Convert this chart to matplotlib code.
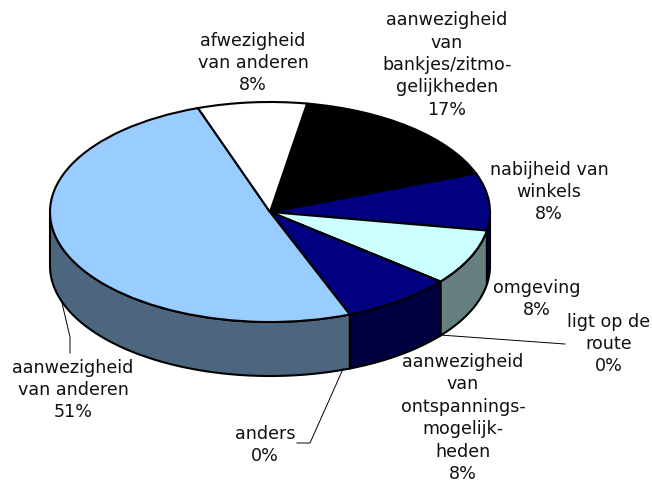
# -*- encoding: utf-8 -*-
import numpy as np
import matplotlib
matplotlib.use('Agg')
import matplotlib.pyplot as plt
from matplotlib.lines import Line2D
from matplotlib.patches import Polygon

W, H = 652, 482

names = ['aanwezigheid\nvan\nbankjes/zitmo-\ngelijkheden',
         'nabijheid van\nwinkels',
         'omgeving',
         'ligt op de\nroute',
         'aanwezigheid\nvan\nontspannings-\nmogelijk-\nheden',
         'anders',
         'aanwezigheid\nvan anderen',
         'afwezigheid\nvan anderen']
values = [16.6, 8.4, 8.2, 0, 8.2, 0, 50.6, 8.0]
top_colors = ['#000000', '#000080', '#CCFFFF', '#FFFFFF',
              '#000080', '#FFFFFF', '#99CCFF', '#FFFFFF']
side_colors = ['#000000', '#000040', '#668080', '#808080',
               '#000040', '#808080', '#4D6680', '#808080']
label_pos = [(447, 65), (549, 192), (537, 299), (609, 344),
             (463, 418), (265, 445), (73, 390), (253, 63)]
leaders = [[(440, 335), (565, 344)],
           [(343, 369), (310, 443), (297, 443)],
           [(62, 303), (70, 337), (70, 353)]]

start = 9.7
cx, cy = 270, 212
rx, ry = 220, 110
depth = 54


def px(x, y):
    return x / W, 1 - y / H


def main():
    fig = plt.figure(figsize=(W / 100, H / 100), dpi=100)
    ax = fig.add_axes([0, 0, 1, 1])

    # front wall first, then the flat pie on top of it
    edges = start + np.cumsum([0] + values) * 3.6
    dz = depth / ry
    for a0, a1, col in zip(edges[:-1], edges[1:], side_colors):
        lo, hi = max(a0, 90), min(a1, 270)
        if hi <= lo:
            continue
        t = np.radians(np.linspace(lo, hi, 60))
        xs, ys = np.sin(t), np.cos(t)
        pts = np.r_[np.c_[xs, ys], np.c_[xs, ys - dz][::-1]]
        ax.add_patch(Polygon(pts, closed=True, facecolor=col,
                             edgecolor='black', linewidth=1.5))

    ax.pie(values, colors=top_colors, startangle=90 - start, counterclock=False,
           wedgeprops={'edgecolor': 'black', 'linewidth': 1.5})

    # squash the circle into the tilted ellipse
    ax.set_aspect('auto')
    ax.set_xlim(-cx / rx, (W - cx) / rx)
    ax.set_ylim(-(H - cy) / ry, cy / ry)

    for name, v, (x, y) in zip(names, values, label_pos):
        fx, fy = px(x, y)
        fig.text(fx, fy, f'{name}\n{v:.0f}%', ha='center', va='center',
                 fontsize=12.6, color='#111111', family='DejaVu Sans',
                 linespacing=1.32)

    for pts in leaders:
        p = [px(*q) for q in pts]
        fig.add_artist(Line2D([q[0] for q in p], [q[1] for q in p],
                              transform=fig.transFigure, color='black',
                              linewidth=0.7))

    fig.savefig('out.png', dpi=100)


if __name__ == '__main__':
    main()
